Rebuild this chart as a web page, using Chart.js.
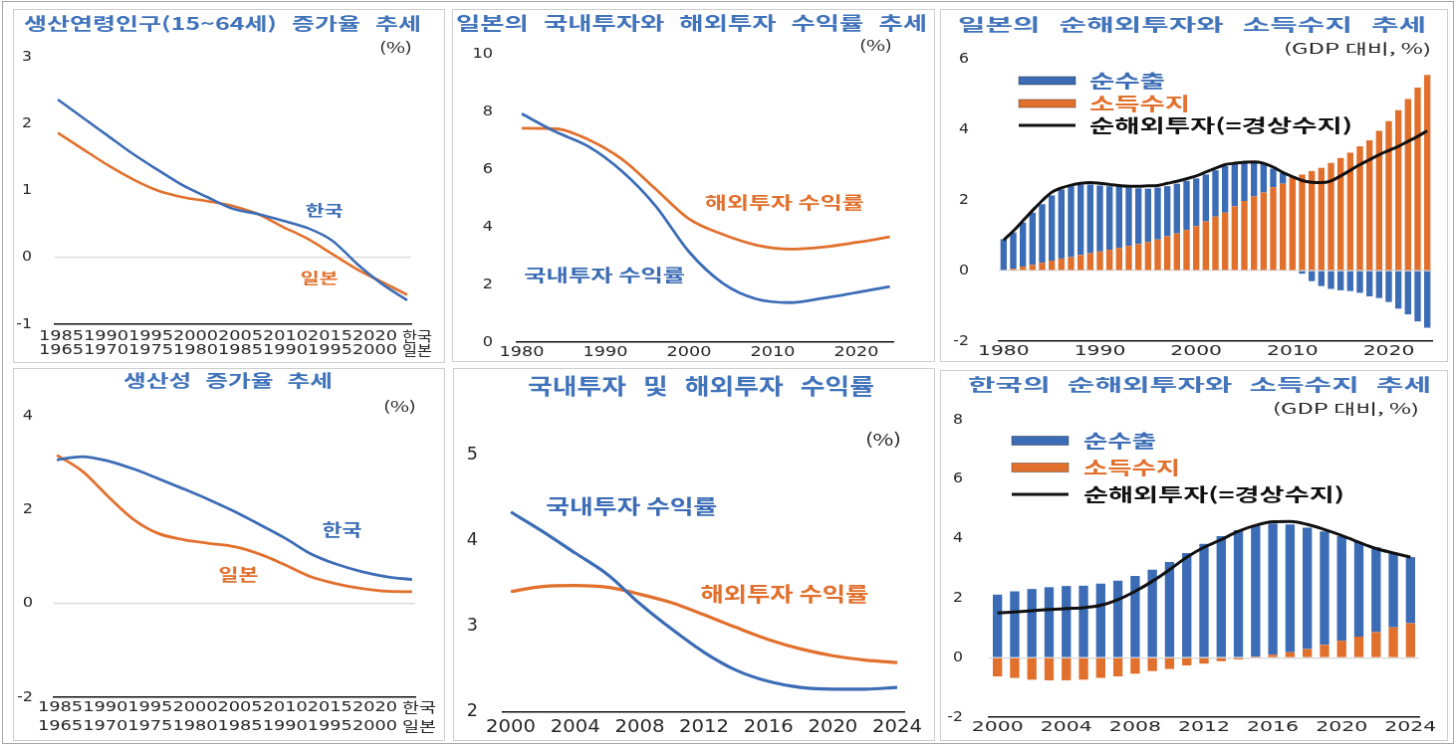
<!DOCTYPE html>
<html lang="ko">
<head>
<meta charset="utf-8">
<title>한국과 일본의 인구·생산성·투자수익률·순해외투자</title>
<script src="https://cdn.jsdelivr.net/npm/chart.js@4.4.1/dist/chart.umd.min.js"></script>
<style>
  html, body { margin: 0; padding: 0; background: #fff; }
  #frame { position: absolute; left: 2px; top: 1px; width: 1450px; height: 741px; border: 1px solid #a8a8a8; }
  canvas.panel { position: absolute; border: 1px solid #cfcfcf; background: #fff; }
</style>
</head>
<body>
<div id="frame"></div>
<canvas id="popChart" class="panel" width="432" height="354" style="left:13px;top:9px"></canvas>
<canvas id="jpReturnChart" class="panel" width="483" height="353" style="left:452px;top:9px"></canvas>
<canvas id="jpBopChart" class="panel" width="508" height="353" style="left:940px;top:9px"></canvas>
<canvas id="prodChart" class="panel" width="432" height="373" style="left:13px;top:368px"></canvas>
<canvas id="krReturnChart" class="panel" width="482" height="373" style="left:453px;top:368px"></canvas>
<canvas id="krBopChart" class="panel" width="508" height="371" style="left:940px;top:370px"></canvas>

<script>
const BLUE = '#3b6cb5';
const ORANGE = '#e2702d';
const TITLE_BLUE = '#4274bb';
const INK = '#262626';
const NUM = '"DejaVu Sans", "Liberation Sans", sans-serif';
const KR = '"Noto Sans CJK KR", "Noto Sans", sans-serif';

// 생산연령인구 증가율 (한국 기준 연도, 일본은 20년 앞선 시점)
const popYears = [1985, 1987.5, 1990, 1992.5, 1995, 1997.5, 2000, 2002.5, 2005, 2007.5, 2010, 2012.5, 2015, 2017.5, 2020];
const popKorea = [2.36, 2.09, 1.82, 1.55, 1.31, 1.08, 0.90, 0.73, 0.65, 0.55, 0.44, 0.25, -0.10, -0.40, -0.64];
const popJapan = [1.86, 1.62, 1.38, 1.17, 1.00, 0.90, 0.84, 0.77, 0.65, 0.46, 0.28, 0.05, -0.18, -0.37, -0.56];

// 생산성 증가율
const prodKorea = [3.06, 3.13, 3.04, 2.87, 2.66, 2.44, 2.21, 1.96, 1.68, 1.39, 1.06, 0.84, 0.68, 0.57, 0.51];
const prodJapan = [3.16, 2.82, 2.29, 1.80, 1.49, 1.36, 1.28, 1.21, 1.05, 0.82, 0.57, 0.42, 0.32, 0.26, 0.25];

// 두 줄 연도 눈금 (한국 / 일본)
const krYearLabels = ['1985', '1990', '1995', '2000', '2005', '2010', '2015', '2020'];
const jpYearLabels = ['1965', '1970', '1975', '1980', '1985', '1990', '1995', '2000'];

// 일본 국내·해외투자 수익률
const jpReturnYears = [1980, 1984, 1988, 1992, 1996, 2000, 2004, 2008, 2012, 2016, 2020, 2024];
const jpDomestic = [7.92, 7.30, 6.78, 5.92, 4.72, 3.13, 2.05, 1.50, 1.37, 1.52, 1.72, 1.93];
const jpOverseas = [7.42, 7.40, 7.02, 6.34, 5.31, 4.27, 3.74, 3.37, 3.23, 3.30, 3.46, 3.65];
const jpReturnTicks = [1980, 1990, 2000, 2010, 2020];

// 한국 국내·해외투자 수익률
const krReturnYears = [2000, 2002, 2004, 2006, 2008, 2010, 2012, 2014, 2016, 2018, 2020, 2022, 2024];
const krDomestic = [4.34, 4.11, 3.86, 3.61, 3.27, 2.97, 2.70, 2.49, 2.36, 2.29, 2.27, 2.27, 2.29];
const krOverseas = [3.41, 3.47, 3.48, 3.46, 3.38, 3.28, 3.14, 2.99, 2.85, 2.74, 2.66, 2.61, 2.58];
const krReturnTicks = [2000, 2004, 2008, 2012, 2016, 2020, 2024];

// 일본 순수출·소득수지·경상수지 (GDP 대비 %)
const jpYears = [];
for (let y = 1980; y <= 2024; y++) jpYears.push(y);
const jpNetExport = [
  0.89, 1.03, 1.25, 1.48, 1.66, 1.85, 1.96, 2.01, 2.00, 1.95,
  1.87, 1.80, 1.74, 1.65, 1.58, 1.51, 1.47, 1.42, 1.41, 1.39,
  1.35, 1.33, 1.31, 1.32, 1.22, 1.11, 0.97, 0.82, 0.53, 0.30,
  0.02, -0.09, -0.30, -0.44, -0.52, -0.56, -0.58, -0.63, -0.73, -0.78,
  -0.89, -1.08, -1.24, -1.44, -1.62
];
const jpIncome = [
  0.00, 0.05, 0.11, 0.16, 0.22, 0.28, 0.34, 0.38, 0.44, 0.49,
  0.54, 0.59, 0.64, 0.70, 0.75, 0.81, 0.88, 0.97, 1.05, 1.15,
  1.26, 1.39, 1.53, 1.64, 1.82, 1.97, 2.10, 2.21, 2.36, 2.46,
  2.65, 2.72, 2.82, 2.91, 3.05, 3.19, 3.34, 3.52, 3.69, 3.96,
  4.23, 4.54, 4.86, 5.18, 5.54
];
const jpCurrent = [
  0.86, 1.12, 1.41, 1.70, 1.98, 2.22, 2.34, 2.42, 2.47, 2.49,
  2.47, 2.44, 2.41, 2.39, 2.39, 2.40, 2.41, 2.47, 2.53, 2.60,
  2.68, 2.79, 2.90, 3.00, 3.04, 3.07, 3.08, 3.04, 2.93, 2.78,
  2.66, 2.55, 2.50, 2.49, 2.54, 2.68, 2.84, 3.00, 3.14, 3.28,
  3.40, 3.52, 3.66, 3.80, 3.96
];
const jpBopTicks = [1980, 1990, 2000, 2010, 2020];

// 한국 순수출·소득수지·경상수지 (GDP 대비 %)
const krYears = [];
for (let y = 2000; y <= 2024; y++) krYears.push(y);
const krNetExport = [2.12, 2.23, 2.31, 2.37, 2.41, 2.42, 2.49, 2.59, 2.75, 2.96, 3.22, 3.52, 3.83, 4.09, 4.29, 4.40, 4.41, 4.30, 4.08, 3.82, 3.52, 3.18, 2.85, 2.50, 2.22];
const krIncome = [-0.63, -0.68, -0.74, -0.76, -0.76, -0.74, -0.68, -0.63, -0.54, -0.45, -0.38, -0.26, -0.20, -0.12, -0.06, 0.04, 0.10, 0.18, 0.29, 0.43, 0.57, 0.71, 0.86, 1.02, 1.16];
const krCurrent = [1.50, 1.54, 1.58, 1.62, 1.65, 1.68, 1.76, 1.95, 2.23, 2.57, 2.96, 3.38, 3.71, 3.97, 4.25, 4.45, 4.57, 4.58, 4.48, 4.31, 4.11, 3.88, 3.67, 3.52, 3.38];
const krBopTicks = [2000, 2004, 2008, 2012, 2016, 2020, 2024];

const pts = (xs, ys) => xs.map((x, i) => ({ x, y: ys[i] }));

// draws text stretched horizontally to a given width;
// with gap set, words are separated by that many pixels and the glyphs take the rest
function stretchText(ctx, text, x, y, o) {
  ctx.save();
  ctx.font = o.font;
  ctx.fillStyle = o.color || INK;
  ctx.textBaseline = 'middle';
  ctx.textAlign = 'left';
  const words = o.gap !== undefined ? text.split(' ') : [text];
  const gap = o.gap || 0;
  const natural = words.map(w => ctx.measureText(w).width);
  const naturalSum = natural.reduce((a, b) => a + b, 0);
  let sx = o.sx || 1;
  if (o.width) sx = (o.width - gap * (words.length - 1)) / naturalSum;
  const total = naturalSum * sx + gap * (words.length - 1);
  let cx = x;
  if (o.align === 'center') cx = x - total / 2;
  else if (o.align === 'right') cx = x - total;
  words.forEach((w, i) => {
    ctx.save();
    ctx.translate(cx, y);
    ctx.scale(sx, 1);
    ctx.fillText(w, 0, 0);
    ctx.restore();
    cx += natural[i] * sx + gap;
  });
  ctx.restore();
}

// titles, unit notes, tick labels, series labels and legends
function decor(spec) {
  return {
    id: 'decor',
    afterDraw(chart) {
      const ctx = chart.ctx;
      const area = chart.chartArea;
      const xs = chart.scales.x;
      const ys = chart.scales.y;
      const sets = chart.data.datasets;

      const t = spec.title;
      stretchText(ctx, t.text, t.x, t.y, {
        font: `bold ${t.size}px ${KR}`, color: TITLE_BLUE, width: t.width, gap: t.gap, align: t.align
      });

      const u = spec.unit;
      stretchText(ctx, u.text, u.x, u.y, { font: `${u.size}px ${KR}`, width: u.width, align: 'right', color: INK });

      const yt = spec.yTicks;
      ys.ticks.forEach(tk => {
        stretchText(ctx, String(tk.value), area.left - yt.pad, ys.getPixelForValue(tk.value), {
          font: `${yt.size}px ${NUM}`, sx: yt.sx, align: 'right'
        });
      });

      if (spec.xTicks) {
        const xt = spec.xTicks;
        xt.values.forEach(v => {
          const px = xs.getPixelForValue(xt.category ? xt.category.indexOf(v) : v);
          stretchText(ctx, String(v), px, xt.y, { font: `${xt.size}px ${NUM}`, sx: xt.sx, align: 'center' });
        });
      }

      if (spec.rows) {
        const r = spec.rows;
        const x0 = area.left + r.dx;
        r.lines.forEach(line => {
          stretchText(ctx, line.years.join(''), x0, line.y, { font: `14px ${NUM}`, width: r.width });
          stretchText(ctx, line.tag, x0 + r.width + r.tagGap, line.y, { font: `14px ${KR}`, width: r.tagWidth });
        });
      }

      if (spec.notes) {
        spec.notes.forEach(n => {
          const ds = sets[n.ds];
          stretchText(ctx, ds.label, xs.getPixelForValue(n.x), ys.getPixelForValue(n.y), {
            font: `bold ${n.size}px ${KR}`, color: ds.borderColor, width: n.width, align: 'center'
          });
        });
      }

      if (spec.legend) {
        const L = spec.legend;
        L.items.forEach((it, i) => {
          const ds = sets[it.ds];
          const y = L.rows[i];
          ctx.save();
          if (ds.type === 'line') {
            ctx.strokeStyle = ds.borderColor;
            ctx.lineWidth = 3;
            ctx.beginPath();
            ctx.moveTo(L.x, y);
            ctx.lineTo(L.x + L.boxW, y);
            ctx.stroke();
          } else {
            ctx.fillStyle = ds.backgroundColor;
            ctx.fillRect(L.x, y - L.boxH / 2, L.boxW, L.boxH);
            ctx.strokeStyle = 'rgba(40,40,40,0.55)';
            ctx.lineWidth = 0.8;
            ctx.strokeRect(L.x, y - L.boxH / 2, L.boxW, L.boxH);
          }
          ctx.restore();
          const color = ds.type === 'line' ? '#111' : ds.backgroundColor;
          stretchText(ctx, ds.label, L.textX, y, { font: `bold ${L.size}px ${KR}`, color, width: it.width });
        });
      }
    }
  };
}

function axes(o) {
  return {
    x: {
      type: o.category ? 'category' : 'linear',
      min: o.xMin,
      max: o.xMax,
      offset: !!o.category,
      stacked: !!o.stacked,
      grid: { display: false, drawTicks: false },
      border: { display: true, color: '#111', width: 1.6 },
      ticks: { display: false }
    },
    y: {
      min: o.yMin,
      max: o.yMax,
      stacked: !!o.stacked,
      grid: {
        drawTicks: false,
        lineWidth: 1.2,
        color: c => (o.zeroLine && c.tick && c.tick.value === 0) ? '#d6d6d6' : 'rgba(0,0,0,0)'
      },
      border: { display: false },
      ticks: { display: false, stepSize: o.yStep }
    }
  };
}

function baseOptions(padding, scales) {
  return {
    responsive: false,
    animation: false,
    devicePixelRatio: 1,
    layout: { autoPadding: false, padding },
    plugins: { legend: { display: false }, tooltip: { enabled: false }, title: { display: false } },
    scales
  };
}

function trend(label, xs, ys, color, width) {
  return {
    label, data: pts(xs, ys), borderColor: color, borderWidth: width,
    pointRadius: 0, cubicInterpolationMode: 'monotone', fill: false
  };
}

document.addEventListener('DOMContentLoaded', () => {
  Chart.defaults.font.family = KR;

  // 생산연령인구 증가율
  new Chart(document.getElementById('popChart'), {
    type: 'line',
    data: { datasets: [trend('한국', popYears, popKorea, BLUE, 2.6), trend('일본', popYears, popJapan, ORANGE, 2.6)] },
    options: baseOptions({ left: 41, right: 33, top: 47, bottom: 38 },
      axes({ xMin: 1984.7, xMax: 2020.4, yMin: -1, yMax: 3, yStep: 1, zeroLine: true })),
    plugins: [decor({
      title: { text: '생산연령인구(15~64세) 증가율 추세', x: 10, y: 14, size: 17, gap: 15, width: 399 },
      unit: { text: '(%)', x: 400, y: 38, size: 14, width: 33 },
      yTicks: { pad: 23, size: 14, sx: 1.12 },
      rows: { dx: -16, width: 360, tagGap: 5, tagWidth: 30,
        lines: [{ years: krYearLabels, tag: '한국', y: 328 }, { years: jpYearLabels, tag: '일본', y: 342 }] },
      notes: [{ ds: 0, x: 2011.7, y: 0.71, size: 15, width: 38 }, { ds: 1, x: 2011.2, y: -0.30, size: 15, width: 38 }]
    })]
  });

  // 일본 국내·해외투자 수익률
  new Chart(document.getElementById('jpReturnChart'), {
    type: 'line',
    data: { datasets: [
      trend('국내투자 수익률', jpReturnYears, jpDomestic, BLUE, 2.8),
      trend('해외투자 수익률', jpReturnYears, jpOverseas, ORANGE, 2.8)
    ] },
    options: baseOptions({ left: 64, right: 41, top: 44, bottom: 19 },
      axes({ xMin: 1979.4, xMax: 2024.4, yMin: 0, yMax: 10, yStep: 2 })),
    plugins: [decor({
      title: { text: '일본의 국내투자와 해외투자 수익률 추세', x: 3, y: 13, size: 18, gap: 15, width: 473 },
      unit: { text: '(%)', x: 441, y: 36, size: 14, width: 33 },
      yTicks: { pad: 24, size: 14, sx: 1.15 },
      xTicks: { values: jpReturnTicks, y: 344, size: 14, sx: 1.26 },
      notes: [{ ds: 1, x: 2011.4, y: 4.86, size: 17, width: 160 }, { ds: 0, x: 1989.9, y: 2.31, size: 17, width: 162 }]
    })]
  });

  // 일본 순해외투자와 소득수지
  new Chart(document.getElementById('jpBopChart'), {
    type: 'bar',
    data: {
      labels: jpYears,
      datasets: [
        { type: 'line', label: '순해외투자(=경상수지)', data: jpCurrent, borderColor: '#111', borderWidth: 3,
          pointRadius: 0, cubicInterpolationMode: 'monotone', order: 0, stack: 'ca' },
        { label: '소득수지', data: jpIncome, backgroundColor: ORANGE, order: 1, stack: 'bop',
          barPercentage: 0.66, categoryPercentage: 1 },
        { label: '순수출', data: jpNetExport, backgroundColor: BLUE, order: 1, stack: 'bop',
          barPercentage: 0.66, categoryPercentage: 1 }
      ]
    },
    options: baseOptions({ left: 58, right: 15, top: 49, bottom: 20 },
      axes({ category: true, stacked: true, yMin: -2, yMax: 6, yStep: 2, zeroLine: true })),
    plugins: [decor({
      title: { text: '일본의 순해외투자와 소득수지 추세', x: 17, y: 15, size: 17, gap: 19, width: 470 },
      unit: { text: '(GDP 대비, %)', x: 492, y: 39, size: 14, width: 148 },
      yTicks: { pad: 30, size: 14, sx: 1.12 },
      xTicks: { values: jpBopTicks, category: jpYears, y: 343, size: 14, sx: 1.45 },
      legend: { x: 78, boxW: 57, boxH: 8, textX: 149, size: 18, rows: [71, 94, 116],
        items: [{ ds: 2, width: 76 }, { ds: 1, width: 101 }, { ds: 0, width: 264 }] }
    })]
  });

  // 생산성 증가율
  new Chart(document.getElementById('prodChart'), {
    type: 'line',
    data: { datasets: [trend('한국', popYears, prodKorea, BLUE, 2.8), trend('일본', popYears, prodJapan, ORANGE, 2.8)] },
    options: baseOptions({ left: 40, right: 29, top: 47, bottom: 43 },
      axes({ xMin: 1984.7, xMax: 2020.3, yMin: -2, yMax: 4, yStep: 2, zeroLine: true })),
    plugins: [decor({
      title: { text: '생산성 증가율 추세', x: 215, y: 12, size: 17, gap: 14, width: 210, align: 'center' },
      unit: { text: '(%)', x: 404, y: 38, size: 14, width: 33 },
      yTicks: { pad: 21, size: 14, sx: 1.15 },
      rows: { dx: -16, width: 361, tagGap: 5, tagWidth: 34,
        lines: [{ years: krYearLabels, tag: '한국', y: 340 }, { years: jpYearLabels, tag: '일본', y: 359 }] },
      notes: [{ ds: 0, x: 2013.1, y: 1.57, size: 17, width: 40 }, { ds: 1, x: 2002.9, y: 0.62, size: 17, width: 40 }]
    })]
  });

  // 한국 국내·해외투자 수익률
  new Chart(document.getElementById('krReturnChart'), {
    type: 'line',
    data: { datasets: [
      trend('국내투자 수익률', krReturnYears, krDomestic, BLUE, 3.2),
      trend('해외투자 수익률', krReturnYears, krOverseas, ORANGE, 3.2)
    ] },
    options: baseOptions({ left: 49, right: 30, top: 87, bottom: 28 },
      axes({ xMin: 1999.5, xMax: 2024.43, yMin: 2, yMax: 5, yStep: 1 })),
    plugins: [decor({
      title: { text: '국내투자 및 해외투자 수익률', x: 248, y: 17, size: 22, gap: 17, width: 348, align: 'center' },
      unit: { text: '(%)', x: 449, y: 71, size: 16, width: 36 },
      yTicks: { pad: 25, size: 17, sx: 1.03 },
      xTicks: { values: krReturnTicks, y: 360, size: 18, sx: 1.09 },
      notes: [{ ds: 0, x: 2007.5, y: 4.40, size: 20, width: 172 }, { ds: 1, x: 2017.0, y: 3.38, size: 20, width: 169 }]
    })]
  });

  // 한국 순해외투자와 소득수지
  new Chart(document.getElementById('krBopChart'), {
    type: 'bar',
    data: {
      labels: krYears,
      datasets: [
        { type: 'line', label: '순해외투자(=경상수지)', data: krCurrent, borderColor: '#111', borderWidth: 3,
          pointRadius: 0, cubicInterpolationMode: 'monotone', order: 0, stack: 'ca' },
        { label: '소득수지', data: krIncome, backgroundColor: ORANGE, order: 1, stack: 'bop',
          barPercentage: 0.54, categoryPercentage: 1 },
        { label: '순수출', data: krNetExport, backgroundColor: BLUE, order: 1, stack: 'bop',
          barPercentage: 0.54, categoryPercentage: 1 }
      ]
    },
    options: baseOptions({ left: 48, right: 28, top: 49, bottom: 23 },
      axes({ category: true, stacked: true, yMin: -2, yMax: 8, yStep: 2, zeroLine: true })),
    plugins: [decor({
      title: { text: '한국의 순해외투자와 소득수지 추세', x: 27, y: 14, size: 17, gap: 17, width: 465 },
      unit: { text: '(GDP 대비, %)', x: 480, y: 38, size: 14, width: 147 },
      yTicks: { pad: 26, size: 14, sx: 1.12 },
      xTicks: { values: krBopTicks, category: krYears, y: 358, size: 14, sx: 1.46 },
      legend: { x: 71, boxW: 57, boxH: 9, textX: 143, size: 18, rows: [70, 97, 124],
        items: [{ ds: 2, width: 73 }, { ds: 1, width: 97 }, { ds: 0, width: 262 }] }
    })]
  });
});
</script>
</body>
</html>
